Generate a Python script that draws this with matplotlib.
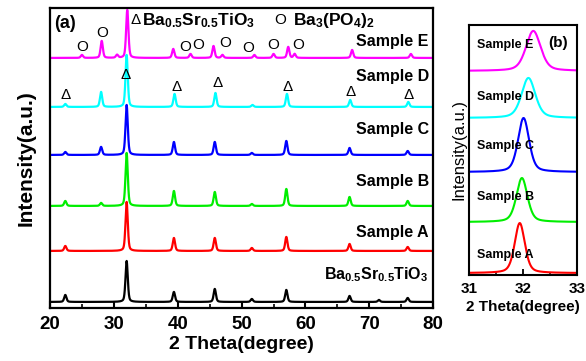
import numpy as np
import matplotlib.pyplot as plt

plt.rcParams['font.family'] = ['Liberation Sans', 'DejaVu Sans']
plt.rcParams['font.weight'] = 'bold'
plt.rcParams['mathtext.fontset'] = 'custom'
plt.rcParams['mathtext.rm'] = 'Liberation Sans:bold'
plt.rcParams['mathtext.it'] = 'Liberation Sans:bold'
plt.rcParams['mathtext.bf'] = 'Liberation Sans:bold'

# ---- panel (a): peak tables (2theta, height) ----
samples = ['BST', 'Sample A', 'Sample B', 'Sample C', 'Sample D', 'Sample E']
colors = ['black', '#ff0000', '#00ee00', '#0000ff', '#00ffff', '#ff00ff']
baselines = [6, 57, 102, 153, 201, 250]

bst_pos = [22.4, 32.0, 39.4, 45.8, 51.6, 57.0, 66.9, 71.5, 76.0]
bst_h = [7, 41, 10, 13, 3, 12, 6, 2, 4]
a_pos = [22.4, 32.0, 39.4, 45.8, 51.6, 57.0, 66.9, 76.0]
a_h = [5, 49, 13, 13, 3, 14, 7, 4]
b_pos = [22.4, 28.0, 32.0, 39.4, 45.8, 51.6, 57.0, 66.9, 76.0]
b_h = [5, 3, 53, 15, 14, 2, 17, 9, 5]
c_pos = [22.4, 28.0, 32.0, 39.4, 45.8, 51.6, 57.0, 66.9, 76.0]
c_h = [3, 8, 50, 13, 13, 2, 14, 7, 4]
d_pos = [22.4, 28.0, 32.0, 39.5, 45.9, 51.7, 57.1, 67.0, 76.1]
d_h = [3, 15, 52, 13, 14, 2, 13, 7, 5]
e_pos = [25.0, 28.1, 30.5, 32.1, 39.3, 42.0, 45.6, 47.0, 52.0, 55.0, 57.3, 58.3, 67.3, 76.5]
e_h = [3, 17, 3, 48, 9, 4, 12, 3, 3, 4, 11, 4, 8, 4]
peak_pos = [bst_pos, a_pos, b_pos, c_pos, d_pos, e_pos]
peak_h = [bst_h, a_h, b_h, c_h, d_h, e_h]
label_y = [33, 75, 126, 178, 231, 266]

o_x = [25.1, 28.1, 41.2, 43.2, 47.5, 51.1, 54.9, 58.8]
o_y = [261, 275, 261, 263, 265, 260, 263, 263]
d_x = [22.4, 31.9, 39.9, 46.2, 57.2, 67.1, 76.2]
d_y = [213, 233, 221, 225, 221, 216, 213]

# ---- panel (b): main peak of each sample ----
b_names = ['Sample A', 'Sample B', 'Sample C', 'Sample D', 'Sample E']
b_colors = colors[1:]
b_center = [31.94, 31.98, 32.01, 32.10, 32.19]
b_height = [50, 44, 54, 40, 40]
b_fwhm = [0.22, 0.24, 0.24, 0.30, 0.32]
b_base = [2, 53, 103, 157, 204]
b_label_y = [20, 78, 129, 178, 230]


def profile(x, pos, h, w):
    y = np.zeros_like(x)
    for p, hh in zip(pos, h):
        g = np.exp(-4 * np.log(2) * (x - p) ** 2 / w ** 2)
        l = 1 / (1 + 4 * (x - p) ** 2 / w ** 2)
        y += hh * (0.6 * g + 0.4 * l)
    return y


fig = plt.figure(figsize=(5.86, 3.61), dpi=100)
ax = fig.add_axes([0.0853, 0.147, 0.654, 0.831])
ax2 = fig.add_axes([0.800, 0.238, 0.185, 0.693])

x = np.linspace(20, 80, 3000)
for i in range(len(samples)):
    y = baselines[i] + profile(x, peak_pos[i], peak_h[i], 0.42)
    ax.plot(x, y, color=colors[i], lw=1.6)
    if i == 0:
        lab = 'Ba$_{0.5}$Sr$_{0.5}$TiO$_3$'
    else:
        lab = samples[i]
    ax.text(79.3, label_y[i], lab, ha='right', va='center', fontsize=11.5, fontweight='bold')

for xx, yy in zip(o_x, o_y):
    ax.text(xx, yy, 'O', ha='center', va='center', fontsize=11, fontweight='normal')
for xx, yy in zip(d_x, d_y):
    ax.text(xx, yy, 'Δ', ha='center', va='center', fontsize=11, fontweight='normal')

ax.text(20.7, 284, '(a)', ha='left', va='center', fontsize=13, fontweight='bold')
ax.text(32.6, 288, 'Δ', ha='left', va='center', fontsize=11, fontweight='normal')
ax.text(34.4, 287, 'Ba$_{0.5}$Sr$_{0.5}$TiO$_3$', ha='left', va='center', fontsize=12.5)
ax.text(56.0, 288, 'O', ha='center', va='center', fontsize=11, fontweight='normal')
ax.text(58.0, 287, 'Ba$_3$(PO$_4$)$_2$', ha='left', va='center', fontsize=12.5)

ax.set_xlim(20, 80)
ax.set_ylim(0, 300)
ax.set_xticks([20, 30, 40, 50, 60, 70, 80])
ax.set_xticks([25, 35, 45, 55, 65, 75], minor=True)
ax.set_yticks([])
ax.tick_params(axis='x', which='major', direction='in', length=5, width=1.5, labelsize=13.5, pad=6)
ax.tick_params(axis='x', which='minor', direction='in', length=3, width=1.2)
for lbl in ax.get_xticklabels():
    lbl.set_fontweight('bold')
ax.set_xlabel('2 Theta(degree)', fontsize=14, fontweight='bold', labelpad=2)
ax.set_ylabel('Intensity(a.u.)', fontsize=15, fontweight='bold', labelpad=10)
for s in ax.spines.values():
    s.set_linewidth(1.6)

x2 = np.linspace(31, 33, 800)
for i in range(len(b_names)):
    y = b_base[i] + profile(x2, [b_center[i]], [b_height[i]], b_fwhm[i])
    ax2.plot(x2, y, color=b_colors[i], lw=1.5)
    ax2.text(31.67, b_label_y[i], b_names[i], ha='center', va='center',
             fontsize=9, fontweight='bold')

ax2.text(32.82, 232, '(b)', ha='right', va='center', fontsize=11, fontweight='bold')
ax2.set_xlim(31, 33)
ax2.set_ylim(0, 250)
ax2.set_xticks([31, 32, 33])
ax2.set_xticks([31.5, 32.5], minor=True)
ax2.set_yticks([])
ax2.tick_params(axis='x', which='major', direction='in', length=4, width=1.3, labelsize=11, pad=5)
ax2.tick_params(axis='x', which='minor', direction='in', length=2.5, width=1.1)
for lbl in ax2.get_xticklabels():
    lbl.set_fontweight('bold')
ax2.set_xlabel('2 Theta(degree)', fontsize=11, fontweight='bold', labelpad=3)
ax2.set_ylabel('Intensity(a.u.)', fontsize=12, fontweight='normal', labelpad=2)
for s in ax2.spines.values():
    s.set_linewidth(1.5)

plt.savefig('out.png', dpi=100)
